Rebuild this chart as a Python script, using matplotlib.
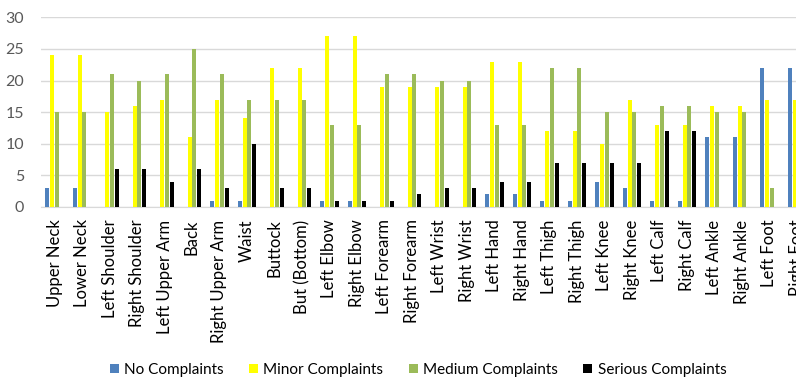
import numpy as np
import matplotlib
matplotlib.use('Agg')
import matplotlib.pyplot as plt

# Datos
partes = ['Upper Neck', 'Lower Neck', 'Left Shoulder', 'Right Shoulder', 'Left Upper Arm',
          'Back', 'Right Upper Arm', 'Waist', 'Buttock', 'But (Bottom)', 'Left Elbow',
          'Right Elbow', 'Left Forearm', 'Right Forearm', 'Left Wrist', 'Right Wrist',
          'Left Hand', 'Right Hand', 'Left Thigh', 'Right Thigh', 'Left Knee', 'Right Knee',
          'Left Calf', 'Right Calf', 'Left Ankle', 'Right Ankle', 'Left Foot', 'Right Foot']

no_complaints = [3, 3, 0, 0, 0, 0, 1, 1, 0, 0, 1, 1, 0, 0, 0, 0,
                 2, 2, 1, 1, 4, 3, 1, 1, 11, 11, 22, 22]
minor_complaints = [24, 24, 15, 16, 17, 11, 17, 14, 22, 22, 27, 27, 19, 19, 19, 19,
                    23, 23, 12, 12, 10, 17, 13, 13, 16, 16, 17, 17]
medium_complaints = [15, 15, 21, 20, 21, 25, 21, 17, 17, 17, 13, 13, 21, 21, 20, 20,
                     13, 13, 22, 22, 15, 15, 16, 16, 15, 15, 3, 3]
serious_complaints = [0, 0, 6, 6, 4, 6, 3, 10, 3, 3, 1, 1, 1, 2, 3, 3,
                      4, 4, 7, 7, 7, 7, 12, 12, 0, 0, 0, 0]

series = [('No Complaints', no_complaints, '#4F81BD'),
          ('Minor Complaints', minor_complaints, '#FFFF00'),
          ('Medium Complaints', medium_complaints, '#9BBB59'),
          ('Serious Complaints', serious_complaints, '#000000')]

plt.rcParams['font.family'] = ['Lato', 'DejaVu Sans']

fig = plt.figure(figsize=(7.96, 3.78), dpi=100)
# el eje se sale por la derecha, como en la imagen recortada
ax = fig.add_axes([0.0512, 0.4524, 0.9673, 0.5018])

x = np.arange(len(partes))
paso = 0.175
ancho = 0.15
for i, (nombre, valores, color) in enumerate(series):
    ax.bar(x + (i - 1.5) * paso, valores, width=ancho, color=color, label=nombre, zorder=3)

ax.set_xlim(-0.5, len(partes) - 0.5)
ax.set_ylim(0, 30)
ax.set_yticks(range(0, 31, 5))
ax.set_xticks(x)
ax.set_xticklabels(partes, rotation=90, fontsize=12, color='black')
ax.tick_params(axis='y', labelsize=11.5, labelcolor='#595959', length=0, pad=12)
ax.tick_params(axis='x', length=0, pad=9)
ax.grid(axis='y', color='#D9D9D9', linewidth=1, zorder=0)
for lado in ['top', 'right', 'left']:
    ax.spines[lado].set_visible(False)
ax.spines['bottom'].set_color('#D9D9D9')

fig.legend(loc='center', bbox_to_anchor=(418 / 796, 1 - 370 / 378), ncol=4, frameon=False,
           fontsize=11, handlelength=0.6, handleheight=0.6, handletextpad=0.35,
           columnspacing=1.65)

fig.savefig('out.png', dpi=100)
